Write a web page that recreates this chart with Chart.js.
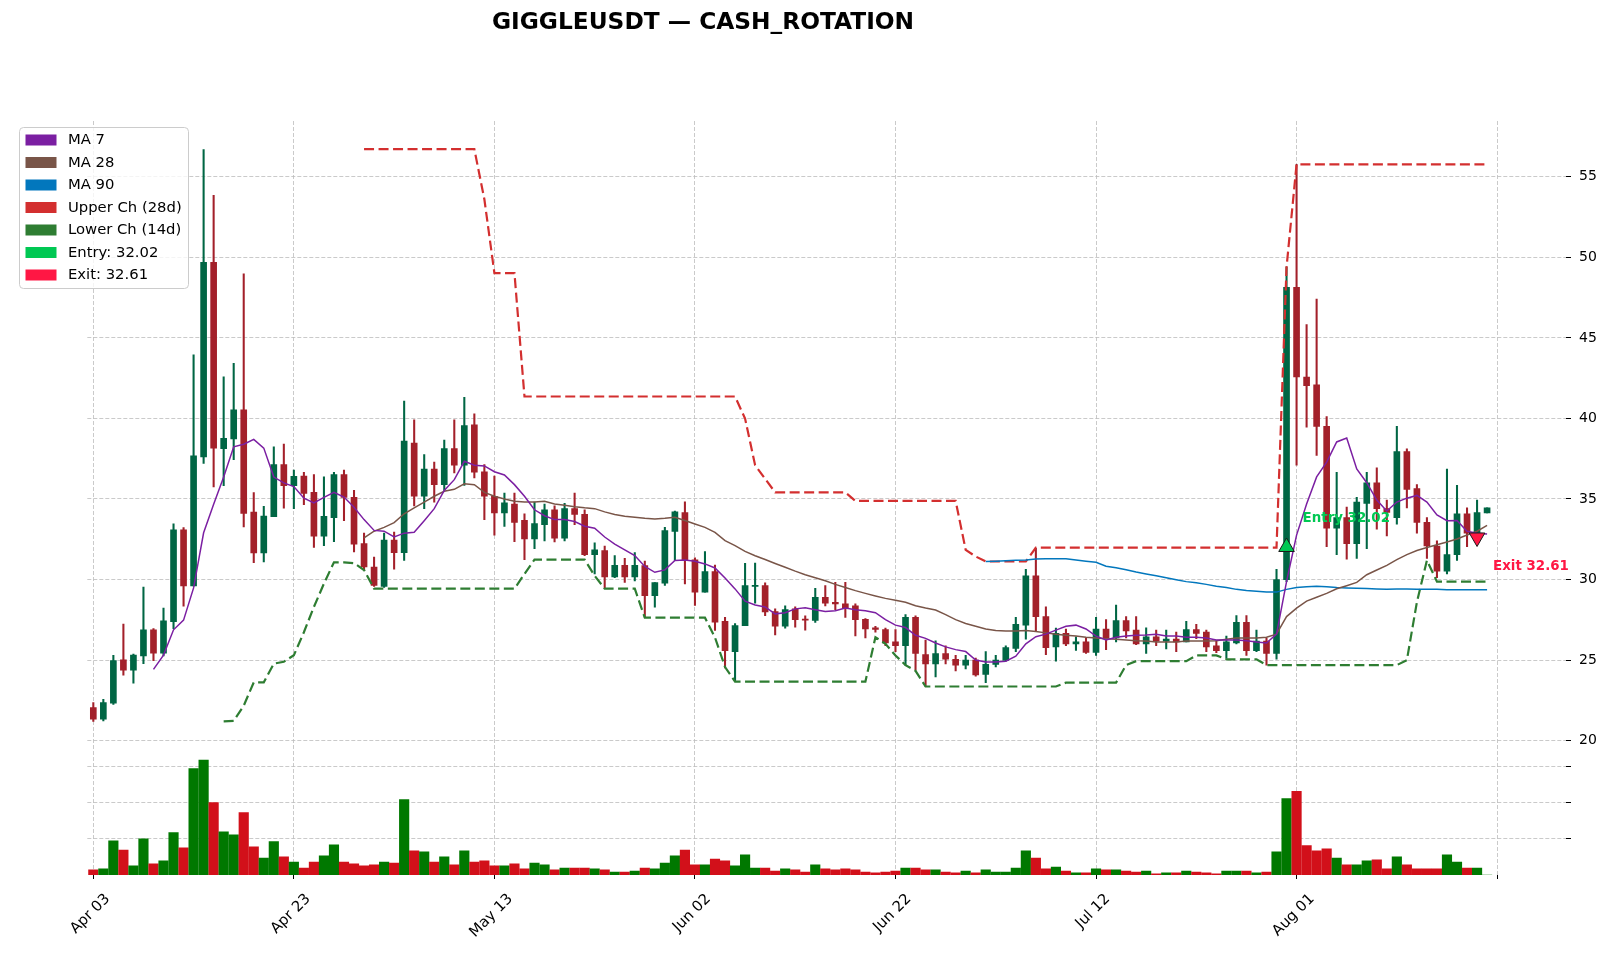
<!DOCTYPE html>
<html>
<head>
<meta charset="utf-8">
<title>GIGGLEUSDT — CASH_ROTATION</title>
<script src="https://cdn.jsdelivr.net/npm/chart.js@4.4.1/dist/chart.umd.min.js"></script>
<style>
  html, body { margin: 0; padding: 0; background: #fff; }
  #wrap { width: 1611px; height: 955px; }
</style>
</head>
<body>
<div id="wrap"><canvas id="chart" width="1611" height="955"></canvas></div>
<script>
// one candle per day, day 0 = Apr 03
const titleText = 'GIGGLEUSDT — CASH_ROTATION';
const tickDays = [0, 20, 40, 60, 80, 100, 120, 140];
const tickLabels = ['Apr 03', 'Apr 23', 'May 13', 'Jun 02', 'Jun 22', 'Jul 12', 'Aug 01', ''];

const opens = [
  22.05, 21.33, 22.32, 25.02, 24.37, 25.26, 26.88, 25.43, 27.38, 33.08,
  29.6, 37.61, 49.69, 38.12, 38.72, 40.53, 34.18, 31.65, 33.9, 37.13,
  35.83, 36.42, 35.41, 32.69, 33.84, 36.52, 35.1, 32.23, 30.78, 29.58,
  32.45, 31.67, 38.47, 35.17, 36.86, 35.89, 38.13, 37.1, 39.6, 36.69,
  35.17, 34.13, 34.69, 33.67, 32.52, 33.41, 34.33, 32.57, 34.4, 34.04,
  31.55, 31.8, 30.16, 30.88, 30.16, 30.87, 29.0, 29.77, 32.98, 34.15,
  31.22, 29.21, 30.5, 27.41, 25.53, 27.14, 29.58, 29.63, 28.01, 27.1,
  28.18, 27.55, 27.46, 28.9, 28.59, 28.49, 28.37, 27.53, 27.0, 26.9,
  26.13, 25.89, 27.65, 25.34, 24.76, 25.41, 25.05, 24.69, 25.0, 24.11,
  24.73, 24.98, 25.72, 27.17, 30.23, 27.7, 25.82, 26.66, 26.01, 26.13,
  25.48, 26.93, 26.37, 27.46, 26.86, 26.01, 26.45, 26.18, 26.3, 26.13,
  26.9, 26.74, 25.89, 25.58, 26.06, 27.34, 25.58, 26.18, 25.41, 29.99,
  48.13, 42.57, 42.08, 39.51, 33.19, 33.84, 32.23, 34.73, 36.01, 34.4,
  33.84, 37.94, 35.65, 33.55, 32.08, 30.52, 31.55, 34.08, 32.88, 34.13
];
const highs = [
  22.37, 22.56, 25.3, 27.24, 25.38, 29.53, 26.95, 28.23, 33.46, 33.22,
  43.95, 56.69, 53.84, 42.58, 43.42, 48.97, 35.39, 34.55, 38.24, 38.41,
  36.79, 36.66, 36.52, 36.37, 36.66, 36.8, 35.53, 32.88, 31.39, 32.88,
  32.95, 41.07, 39.92, 37.75, 37.29, 38.66, 39.92, 41.31, 40.28, 37.14,
  36.42, 35.36, 35.36, 34.08, 34.81, 34.69, 34.57, 34.73, 35.36, 34.33,
  32.28, 32.08, 31.48, 31.31, 31.67, 31.14, 29.81, 33.24, 34.25, 34.83,
  31.34, 31.74, 30.9, 27.65, 27.27, 31.0, 31.02, 29.8, 28.18, 28.37,
  28.3, 27.75, 29.46, 29.63, 29.82, 29.82, 28.49, 27.58, 27.1, 26.98,
  26.9, 27.82, 27.75, 26.25, 26.2, 25.89, 25.29, 25.29, 25.12, 25.53,
  25.29, 25.89, 27.65, 30.64, 31.96, 28.3, 26.98, 26.93, 26.45, 26.37,
  27.65, 27.51, 28.42, 27.7, 27.7, 27.0, 26.86, 26.86, 26.74, 27.41,
  27.22, 26.86, 26.2, 26.49, 27.77, 27.77, 26.86, 26.37, 30.64, 49.39,
  55.77, 45.82, 47.41, 40.11, 36.66, 34.49, 35.1, 36.66, 36.93, 34.93,
  39.51, 38.11, 35.89, 33.84, 32.4, 36.86, 35.84, 34.45, 34.93, 34.45
];
const lows = [
  21.2, 21.23, 22.25, 24.06, 23.57, 24.78, 24.97, 25.26, 26.95, 28.35,
  29.6, 37.2, 35.75, 35.83, 37.44, 33.27, 31.05, 31.1, 33.9, 34.43,
  34.4, 34.64, 31.99, 32.1, 32.35, 33.65, 31.72, 30.59, 29.58, 29.51,
  30.64, 31.19, 34.57, 34.4, 34.8, 35.53, 36.61, 35.84, 36.3, 33.72,
  32.76, 33.29, 32.35, 31.24, 31.92, 32.4, 32.33, 32.4, 33.41, 31.48,
  30.35, 29.43, 30.11, 29.82, 29.92, 27.67, 28.29, 29.63, 31.18, 29.73,
  28.39, 29.21, 26.84, 24.52, 23.67, 27.14, 28.54, 27.75, 26.57, 26.98,
  27.05, 26.86, 27.34, 28.37, 28.13, 27.65, 26.5, 26.37, 26.73, 25.89,
  25.53, 24.69, 24.38, 23.36, 23.96, 24.76, 24.33, 24.45, 24.01, 23.6,
  24.57, 24.93, 25.53, 26.3, 26.78, 25.34, 24.93, 25.89, 25.6, 25.41,
  25.29, 25.65, 26.13, 26.37, 25.96, 25.41, 25.89, 25.7, 25.53, 26.13,
  26.33, 25.53, 25.46, 25.1, 26.01, 25.29, 25.53, 24.69, 25.05, 29.87,
  37.1, 39.46, 37.7, 32.04, 31.55, 31.27, 31.31, 31.92, 33.12, 32.71,
  33.43, 34.45, 32.88, 31.31, 30.11, 30.35, 31.19, 32.04, 32.76, 34.13
];
const closes = [
  21.33, 22.37, 24.97, 24.37, 25.31, 26.88, 25.43, 27.43, 33.08, 29.6,
  37.68, 49.69, 38.16, 38.77, 40.53, 34.11, 31.65, 33.94, 37.13, 35.83,
  36.4, 35.34, 32.69, 33.92, 36.52, 35.1, 32.2, 30.78, 29.63, 32.45,
  31.67, 38.59, 35.17, 36.86, 35.89, 38.13, 37.1, 39.55, 36.66, 35.17,
  34.13, 34.76, 33.55, 32.52, 33.48, 34.33, 32.57, 34.4, 34.04, 31.55,
  31.84, 30.16, 30.88, 30.16, 30.88, 29.0, 29.81, 33.04, 34.21, 31.18,
  29.21, 30.5, 27.36, 25.58, 27.14, 29.63, 29.63, 27.99, 27.1, 28.13,
  27.51, 27.48, 28.9, 28.54, 28.49, 28.23, 27.51, 26.93, 26.9, 26.06,
  25.89, 27.65, 25.41, 24.76, 25.41, 25.05, 24.69, 25.0, 24.08, 24.73,
  25.0, 25.77, 27.22, 30.23, 27.7, 25.77, 26.66, 26.01, 26.13, 25.48,
  26.93, 26.37, 27.46, 26.81, 26.01, 26.45, 26.18, 26.3, 26.13, 26.9,
  26.66, 25.82, 25.58, 26.13, 27.34, 25.58, 26.18, 25.41, 29.99, 48.13,
  42.57, 42.04, 39.51, 33.19, 33.84, 32.23, 34.81, 36.01, 34.4, 34.16,
  37.94, 35.6, 33.55, 32.08, 30.52, 31.55, 34.08, 32.88, 34.16, 34.45
];
// volume in arbitrary units (axis has no labels)
const volumes = [
  0.14, 0.17, 0.94, 0.69, 0.25, 1.0, 0.31, 0.39, 1.17, 0.75,
  2.94, 3.17, 2.0, 1.19, 1.11, 1.72, 0.78, 0.47, 0.92, 0.5,
  0.36, 0.19, 0.36, 0.53, 0.83, 0.36, 0.31, 0.25, 0.28, 0.36,
  0.33, 2.08, 0.67, 0.64, 0.36, 0.5, 0.28, 0.67, 0.36, 0.39,
  0.25, 0.25, 0.31, 0.17, 0.33, 0.28, 0.14, 0.19, 0.19, 0.19,
  0.17, 0.14, 0.08, 0.08, 0.11, 0.19, 0.17, 0.33, 0.53, 0.69,
  0.28, 0.28, 0.44, 0.39, 0.25, 0.56, 0.19, 0.19, 0.11, 0.17,
  0.14, 0.08, 0.28, 0.17, 0.14, 0.17, 0.14, 0.08, 0.06, 0.08,
  0.11, 0.19, 0.19, 0.14, 0.14, 0.08, 0.06, 0.11, 0.06, 0.14,
  0.08, 0.08, 0.19, 0.67, 0.47, 0.17, 0.22, 0.11, 0.06, 0.06,
  0.17, 0.14, 0.14, 0.11, 0.08, 0.11, 0.03, 0.06, 0.06, 0.11,
  0.08, 0.06, 0.03, 0.11, 0.11, 0.11, 0.06, 0.08, 0.64, 2.11,
  2.31, 0.81, 0.67, 0.72, 0.47, 0.28, 0.28, 0.39, 0.42, 0.17,
  0.5, 0.28, 0.17, 0.17, 0.17, 0.56, 0.36, 0.19, 0.19, 0
];
const ma7 = [
  null, null, null, null, null, null, 24.42, 25.31, 26.88, 27.48,
  29.48, 32.9, 34.67, 36.36, 38.24, 38.4, 38.7, 38.16, 36.36, 36.0,
  35.77, 35.05, 34.76, 35.1, 35.41, 35.12, 34.49, 33.72, 33.05, 33.0,
  32.64, 32.88, 32.93, 33.65, 34.4, 35.53, 36.2, 37.34, 37.1, 37.05,
  36.69, 36.49, 35.89, 35.17, 34.33, 33.96, 33.72, 33.72, 33.6, 33.31,
  33.19, 32.64, 32.2, 31.84, 31.49, 30.81, 30.45, 30.6, 31.18, 31.22,
  31.14, 30.97, 30.72, 30.1, 29.42, 28.66, 28.42, 28.3, 27.87, 27.94,
  28.18, 28.25, 28.13, 28.01, 28.06, 28.23, 28.13, 28.06, 27.94, 27.51,
  27.17, 27.02, 26.54, 26.35, 26.06, 25.82, 25.65, 25.53, 25.0, 24.88,
  24.88, 24.93, 25.24, 26.01, 26.45, 26.61, 26.86, 27.1, 27.17, 26.93,
  26.49, 26.25, 26.42, 26.49, 26.54, 26.56, 26.61, 26.49, 26.49, 26.42,
  26.42, 26.37, 26.25, 26.25, 26.25, 26.2, 26.13, 26.06, 26.61, 29.87,
  32.76, 34.69, 36.37, 37.29, 38.54, 38.78, 36.86, 36.01, 34.93, 34.25,
  34.81, 35.05, 35.22, 34.81, 34.01, 33.65, 33.67, 33.0, 32.88, 32.83
];
const ma28 = [
  null, null, null, null, null, null, null, null, null, null,
  null, null, null, null, null, null, null, null, null, null,
  null, null, null, null, null, null, null, 32.59, 33.0, 33.24,
  33.53, 34.08, 34.45, 34.81, 35.17, 35.48, 35.6, 35.94, 35.89, 35.41,
  35.17, 35.0, 34.86, 34.81, 34.81, 34.86, 34.69, 34.61, 34.52, 34.45,
  34.4, 34.2, 34.04, 33.93, 33.86, 33.8, 33.76, 33.8, 33.86, 33.66,
  33.45, 33.24, 32.93, 32.42, 32.11, 31.75, 31.48, 31.24, 31.0, 30.76,
  30.52, 30.3, 30.11, 29.92, 29.7, 29.51, 29.31, 29.14, 28.98, 28.83,
  28.71, 28.59, 28.37, 28.23, 28.11, 27.82, 27.51, 27.27, 27.1, 26.93,
  26.83, 26.81, 26.81, 26.83, 26.78, 26.69, 26.61, 26.54, 26.49, 26.42,
  26.37, 26.33, 26.3, 26.25, 26.2, 26.18, 26.13, 26.13, 26.13, 26.18,
  26.18, 26.18, 26.2, 26.3, 26.37, 26.37, 26.37, 26.42, 26.61, 27.7,
  28.23, 28.66, 28.9, 29.14, 29.43, 29.62, 29.82, 30.3, 30.59, 30.88,
  31.24, 31.55, 31.8, 31.99, 32.16, 32.33, 32.52, 32.76, 33.0, 33.36
];
const ma90 = [
  null, null, null, null, null, null, null, null, null, null,
  null, null, null, null, null, null, null, null, null, null,
  null, null, null, null, null, null, null, null, null, null,
  null, null, null, null, null, null, null, null, null, null,
  null, null, null, null, null, null, null, null, null, null,
  null, null, null, null, null, null, null, null, null, null,
  null, null, null, null, null, null, null, null, null, null,
  null, null, null, null, null, null, null, null, null, null,
  null, null, null, null, null, null, null, null, null, 31.12,
  31.14, 31.17, 31.19, 31.22, 31.27, 31.29, 31.29, 31.29, 31.22, 31.14,
  31.07, 30.83, 30.73, 30.61, 30.47, 30.35, 30.23, 30.11, 29.99, 29.87,
  29.8, 29.7, 29.58, 29.51, 29.39, 29.32, 29.27, 29.22, 29.22, 29.39,
  29.51, 29.56, 29.58, 29.56, 29.51, 29.48, 29.46, 29.44, 29.41, 29.39,
  29.41, 29.41, 29.39, 29.39, 29.39, 29.37, 29.36, 29.36, 29.36, 29.36
];
const upperCh = [
  null, null, null, null, null, null, null, null, null, null,
  null, null, null, null, null, null, null, null, null, null,
  null, null, null, null, null, null, null, 56.71, 56.71, 56.71,
  56.71, 56.71, 56.71, 56.71, 56.71, 56.71, 56.71, 56.71, 56.71, 53.6,
  49.02, 49.02, 49.02, 41.36, 41.36, 41.36, 41.36, 41.36, 41.36, 41.36,
  41.36, 41.36, 41.36, 41.36, 41.36, 41.36, 41.36, 41.36, 41.36, 41.36,
  41.36, 41.36, 41.36, 41.36, 41.36, 39.99, 37.1, 36.25, 35.41, 35.41,
  35.41, 35.41, 35.41, 35.41, 35.41, 35.41, 34.88, 34.88, 34.88, 34.88,
  34.88, 34.88, 34.88, 34.88, 34.88, 34.88, 34.88, 31.84, 31.43, 31.12,
  31.12, 31.12, 31.12, 31.12, 31.98, 31.98, 31.98, 31.98, 31.98, 31.98,
  31.98, 31.98, 31.98, 31.98, 31.98, 31.98, 31.98, 31.98, 31.98, 31.98,
  31.98, 31.98, 31.98, 31.98, 31.98, 31.98, 31.98, 31.98, 31.98, 49.39,
  55.77, 55.77, 55.77, 55.77, 55.77, 55.77, 55.77, 55.77, 55.77, 55.77,
  55.77, 55.77, 55.77, 55.77, 55.77, 55.77, 55.77, 55.77, 55.77, 55.77
];
const lowerCh = [
  null, null, null, null, null, null, null, null, null, null,
  null, null, null, 21.2, 21.23, 22.17, 23.62, 23.62, 24.78, 24.9,
  25.3, 26.73, 28.3, 29.75, 31.07, 31.07, 31.02, 30.59, 29.43, 29.43,
  29.43, 29.43, 29.43, 29.43, 29.43, 29.43, 29.43, 29.43, 29.43, 29.43,
  29.43, 29.43, 29.43, 30.35, 31.24, 31.24, 31.24, 31.24, 31.24, 31.24,
  30.23, 29.43, 29.43, 29.43, 29.43, 27.63, 27.63, 27.63, 27.63, 27.63,
  27.63, 27.63, 26.4, 24.57, 23.67, 23.67, 23.67, 23.67, 23.67, 23.67,
  23.67, 23.67, 23.67, 23.67, 23.67, 23.67, 23.67, 23.67, 26.42, 26.01,
  25.29, 24.69, 24.33, 23.36, 23.36, 23.36, 23.36, 23.36, 23.36, 23.36,
  23.36, 23.36, 23.36, 23.36, 23.36, 23.36, 23.36, 23.6, 23.6, 23.6,
  23.6, 23.6, 23.6, 24.69, 24.93, 24.93, 24.93, 24.93, 24.93, 24.93,
  25.29, 25.29, 25.29, 25.05, 25.05, 25.05, 25.05, 24.69, 24.69, 24.69,
  24.69, 24.69, 24.69, 24.69, 24.69, 24.69, 24.69, 24.69, 24.69, 24.69,
  24.69, 25.0, 28.6, 31.19, 29.87, 29.87, 29.87, 29.87, 29.87, 29.87
];
const entryDay = 119, entryPrice = 32.02;
const exitDay = 138, exitPrice = 32.61;

const legendLabels = ['MA 7', 'MA 28', 'MA 90', 'Upper Ch (28d)', 'Lower Ch (14d)', 'Entry: ' + entryPrice.toFixed(2), 'Exit: ' + exitPrice.toFixed(2)];
const legendColors = ['#7b1fa2', '#795548', '#0277bd', '#d32f2f', '#2e7d32', '#00c853', '#ff1744'];

const upCandle = '#006644', downCandle = '#a3202a';
const upVol = '#007800', downVol = '#d2101a';

const isUp = closes.map((c, i) => c >= opens[i]);
const pts = arr => arr.map((v, i) => ({ x: i, y: v }));

const fontFam = '"DejaVu Sans", sans-serif';
Chart.defaults.font.family = fontFam;
Chart.defaults.color = '#000';

const gridOpts = { color: '#bdbdbd', lineWidth: 0.8, offset: false, tickColor: '#000', tickLength: 5, tickWidth: 1, tickBorderDash: [] };
const borderOpts = { display: false, dash: [4, 2] };

const overlay = {
  id: 'overlay',
  afterDraw(chart) {
    const ctx = chart.ctx;
    const xs = chart.scales.x, ys = chart.scales.y;
    ctx.save();
    // title
    ctx.fillStyle = '#000';
    ctx.font = 'bold 23.3px ' + fontFam;
    ctx.textAlign = 'center';
    ctx.textBaseline = 'middle';
    ctx.fillText(titleText, 703, 23);
    // date labels, rotated 45deg and centred under each tick
    ctx.font = '14.8px ' + fontFam;
    const labTop = chart.chartArea.bottom + 16;
    tickDays.forEach((d, i) => {
      const txt = tickLabels[i];
      if (!txt) return;
      const half = (ctx.measureText(txt).width + 16) * Math.SQRT1_2 / 2;
      ctx.save();
      ctx.translate(xs.getPixelForValue(d) - 3, labTop + half);
      ctx.rotate(-Math.PI / 4);
      ctx.fillText(txt, 0, 0);
      ctx.restore();
    });
    // trade labels
    ctx.font = 'bold 13.4px ' + fontFam;
    ctx.textAlign = 'left';
    ctx.fillStyle = '#00c853';
    ctx.fillText('Entry ' + entryPrice.toFixed(2), xs.getPixelForValue(entryDay) + 16, ys.getPixelForValue(entryPrice) - 28);
    ctx.fillStyle = '#ff1744';
    ctx.fillText('Exit ' + exitPrice.toFixed(2), xs.getPixelForValue(exitDay) + 16, ys.getPixelForValue(exitPrice) + 29);
    // legend box, top left of the plot
    const lx = 19.5, ly = 127.5, lw = 169, lh = 161;
    ctx.beginPath();
    ctx.roundRect(lx, ly, lw, lh, 4);
    ctx.fillStyle = 'rgba(255,255,255,0.8)';
    ctx.fill();
    ctx.strokeStyle = '#cccccc';
    ctx.lineWidth = 1;
    ctx.stroke();
    ctx.font = '14.8px ' + fontFam;
    ctx.textBaseline = 'middle';
    legendLabels.forEach((lab, i) => {
      const cy = 140 + 22.5 * i;
      ctx.fillStyle = legendColors[i];
      ctx.fillRect(25.5, cy - 5.5, 31, 11);
      ctx.fillStyle = '#000';
      ctx.fillText(lab, 68, cy + 0.5);
    });
    ctx.restore();
  }
};

new Chart(document.getElementById('chart'), {
  type: 'bar',
  data: {
    datasets: [
      {
        type: 'line', label: 'Entry', data: [{ x: entryDay, y: entryPrice }],
        showLine: false, pointStyle: 'triangle', pointRadius: 9, pointBackgroundColor: '#00c853',
        pointBorderColor: '#1b1b1b', pointBorderWidth: 1, yAxisID: 'y', order: 0
      },
      {
        type: 'line', label: 'Exit', data: [{ x: exitDay, y: exitPrice }],
        showLine: false, pointStyle: 'triangle', rotation: 180, pointRadius: 9, pointBackgroundColor: '#ff1744',
        pointBorderColor: '#1b1b1b', pointBorderWidth: 1, yAxisID: 'y', order: 0
      },
      { type: 'line', label: 'MA 7', data: pts(ma7), borderColor: legendColors[0], borderWidth: 1.5, pointRadius: 0, yAxisID: 'y', order: 1 },
      { type: 'line', label: 'MA 28', data: pts(ma28), borderColor: legendColors[1], borderWidth: 1.5, pointRadius: 0, yAxisID: 'y', order: 1 },
      { type: 'line', label: 'MA 90', data: pts(ma90), borderColor: legendColors[2], borderWidth: 1.5, pointRadius: 0, yAxisID: 'y', order: 1 },
      { type: 'line', label: 'Upper Ch (28d)', data: pts(upperCh), borderColor: legendColors[3], borderWidth: 2.2, borderDash: [10, 4.5], pointRadius: 0, yAxisID: 'y', order: 2 },
      { type: 'line', label: 'Lower Ch (14d)', data: pts(lowerCh), borderColor: legendColors[4], borderWidth: 2.2, borderDash: [10, 4.5], pointRadius: 0, yAxisID: 'y', order: 2 },
      {
        label: 'body', data: opens.map((o, i) => ({ x: i, y: [o, closes[i]] })),
        backgroundColor: isUp.map(u => u ? upCandle : downCandle), barThickness: 6, minBarLength: 1,
        borderWidth: 0, borderSkipped: false, grouped: false, yAxisID: 'y', order: 4
      },
      {
        label: 'wick', data: lows.map((l, i) => ({ x: i, y: [l, highs[i]] })),
        backgroundColor: isUp.map(u => u ? upCandle : downCandle), barThickness: 1.4,
        borderWidth: 0, borderSkipped: false, grouped: false, yAxisID: 'y', order: 5
      },
      {
        label: 'volume', data: pts(volumes),
        backgroundColor: isUp.map(u => u ? upVol : downVol), barThickness: 9.5,
        borderWidth: 0, grouped: false, yAxisID: 'yVol', order: 6
      }
    ]
  },
  options: {
    responsive: false,
    animation: false,
    layout: { padding: { left: 87.3, top: 121, right: 0, bottom: 0 } },
    plugins: { legend: { display: false }, tooltip: { enabled: false }, title: { display: false } },
    scales: {
      x: {
        type: 'linear', min: -0.6, max: 146.87, offset: false,
        afterBuildTicks: s => { s.ticks = tickDays.map(v => ({ value: v })); },
        afterFit: s => { s.height = 80; },
        ticks: { autoSkip: false, maxRotation: 0, minRotation: 0, callback: () => '' },
        grid: Object.assign({}, gridOpts, { tickLength: 4 }),
        border: borderOpts
      },
      y: {
        position: 'right', stack: 'main', stackWeight: 629,
        min: 19.42, max: 58.46,
        afterBuildTicks: s => { s.ticks = [20, 25, 30, 35, 40, 45, 50, 55].map(v => ({ value: v })); },
        afterFit: s => { s.width = 45; },
        ticks: { font: { size: 14 }, color: '#000', padding: 8 },
        grid: gridOpts,
        border: borderOpts
      },
      yVol: {
        position: 'right', stack: 'main', stackWeight: 125,
        min: 0, max: 3.45,
        afterBuildTicks: s => { s.ticks = [1, 2, 3].map(v => ({ value: v })); },
        afterFit: s => { s.width = 45; },
        ticks: { callback: () => '' },
        grid: gridOpts,
        border: borderOpts
      }
    }
  },
  plugins: [overlay]
});
</script>
</body>
</html>
